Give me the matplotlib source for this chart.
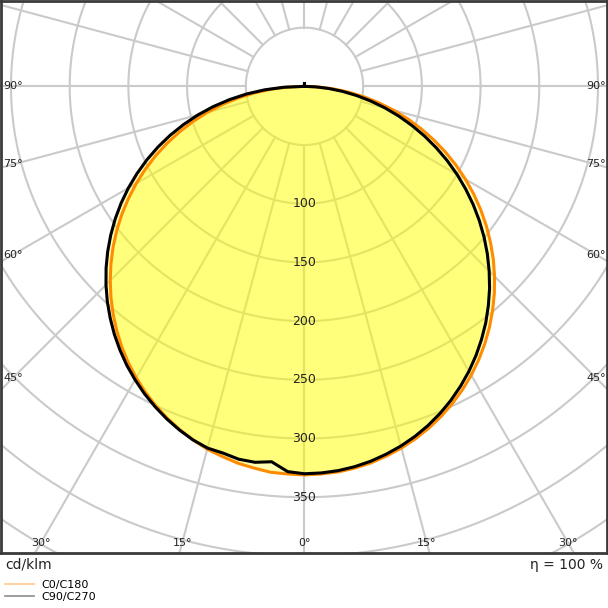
import numpy as np
import matplotlib
matplotlib.use("Agg")
import matplotlib.pyplot as plt
from matplotlib.lines import Line2D

# gamma angles (deg) and intensities in cd/klm
gamma = [0, 2.5, 5, 7.5, 10, 12.5, 15, 17.5, 20, 22.5, 25, 27.5, 30, 32.5, 35, 37.5, 40, 42.5, 45,
         47.5, 50, 52.5, 55, 57.5, 60, 62.5, 65, 67.5, 70, 72.5, 75, 77.5, 80, 82.5, 85, 87.5, 90, 180]
c0 = [331, 330.5, 329.7, 328, 325.7, 322.6, 319, 314.7, 309.8, 304.3, 298.1, 291.4, 284.1, 276.2, 267.8,
      258.8, 249.3, 239.4, 229, 218.2, 206.9, 195.3, 183.3, 171.0, 158.4, 145.6, 132.5, 119.2, 105.8,
      92.3, 78.7, 65.0, 51.5, 38.0, 24.8, 11.8, 0, 0]
c180 = [331, 330.5, 330, 328, 326, 323, 320, 315.7, 311.0, 305.8, 300.0, 293.6, 286.6, 279.2, 271.2,
        262.6, 253.5, 244.0, 234.0, 223.6, 212.8, 201.5, 189.9, 177.8, 165.5, 152.8, 139.9, 126.7, 113.2,
        99.5, 85.7, 71.6, 57.5, 43.2, 28.9, 14.4, 0, 0]
c90 = [330, 329.6, 328.6, 326.8, 324.3, 321, 317.2, 312.7, 307.5, 301.6, 295.1, 287.9, 280.2, 271.9, 263.0,
       253.7, 243.7, 233.4, 222.5, 211.3, 199.7, 187.7, 175.4, 162.8, 150.1, 137.1, 123.9, 110.7, 97.4,
       84.2, 71.0, 57.9, 45.1, 32.6, 20.6, 9.4, 0, 2]
c270 = [330, 328.5, 321, 323, 322.5, 320, 319, 315.8, 311.5, 306.6, 301.1, 295.2, 288.6, 281.7, 274.1,
        266.1, 257.5, 248.6, 239.1, 229.2, 218.8, 208.0, 196.8, 185.2, 173.2, 160.8, 148.1, 135.1, 121.7,
        107.9, 93.9, 79.5, 64.7, 49.7, 34.1, 17.9, 0, 2]

rings = [50, 100, 150, 200, 250, 300, 350, 400, 450, 500]
ring_labels = [100, 150, 200, 250, 300, 350]
bottom_angles = [-30, -15, 0, 15, 30]
side_angles = [45, 60, 75, 90]


def curve(right, left):
    g = np.radians(np.concatenate([-np.array(gamma[::-1]), np.array(gamma[1:])]))
    r = np.concatenate([np.array(left[::-1]), np.array(right[1:])])
    return r * np.sin(g), -r * np.cos(g)


fig = plt.figure(figsize=(6.08, 6.08), dpi=100)
ax = fig.add_axes([1 / 608, 1 - 553 / 608, 606 / 608, 552 / 608])
ax.set_xlim(-258.5, 257.7)
ax.set_ylim(-397.5, 72.7)
ax.set_xticks([])
ax.set_yticks([])
for s in ax.spines.values():
    s.set_color('#3a3a3a')
    s.set_linewidth(2)

# grid
grid_col = '#cacaca'
t = np.linspace(0, 2 * np.pi, 400)
for r in rings:
    ax.plot(r * np.cos(t), r * np.sin(t), color=grid_col, lw=1.5, zorder=1)
for a in range(0, 360, 15):
    ar = np.radians(a)
    ax.plot([50 * np.sin(ar), 600 * np.sin(ar)], [-50 * np.cos(ar), -600 * np.cos(ar)],
            color=grid_col, lw=1.5, zorder=1)

xo, yo = curve(c0, c180)
xb, yb = curve(c90, c270)
ax.fill(xo, yo, color='#ffff00', alpha=0.3, lw=0, zorder=2)
ax.fill(xb, yb, color='#ffff00', alpha=0.3, lw=0, zorder=2)
ax.plot(xo, yo, color='#ff8c00', lw=2.2, zorder=3, solid_joinstyle='round')
ax.plot(xb, yb, color='black', lw=2.2, zorder=4, solid_joinstyle='round')

for v in ring_labels:
    ax.text(0, -v, str(v), ha='center', va='center', fontsize=9, color='#222222', zorder=5)

yb_lab = -389
for a in bottom_angles:
    ax.text(-yb_lab * np.tan(np.radians(a)), yb_lab, '%d°' % abs(a), ha='center', va='center',
            fontsize=8, color='#222222', zorder=5)
xs = 248.3
for a in side_angles:
    y = -xs / np.tan(np.radians(a)) if a != 90 else 0
    ax.text(-xs, y, '%d°' % a, ha='center', va='center', fontsize=8, color='#222222', zorder=5)
    ax.text(xs, y, '%d°' % a, ha='center', va='center', fontsize=8, color='#222222', zorder=5)

fig.text(5 / 608, 1 - 565 / 608, 'cd/klm', fontsize=10, va='center', ha='left', color='#222222')
fig.text(603 / 608, 1 - 565 / 608, 'η = 100 %', fontsize=10, va='center', ha='right', color='#222222')

handles = [Line2D([], [], color='#ffc890', lw=1.2), Line2D([], [], color='#8c8c8c', lw=1.2)]
fig.legend(handles, ['C0/C180', 'C90/C270'], loc='upper left', bbox_to_anchor=(5 / 608, 1 - 580 / 608),
           frameon=False, fontsize=8, handlelength=2.6, handletextpad=0.7, labelspacing=0.2,
           borderaxespad=0, borderpad=0)

fig.savefig('out.png', dpi=100)
